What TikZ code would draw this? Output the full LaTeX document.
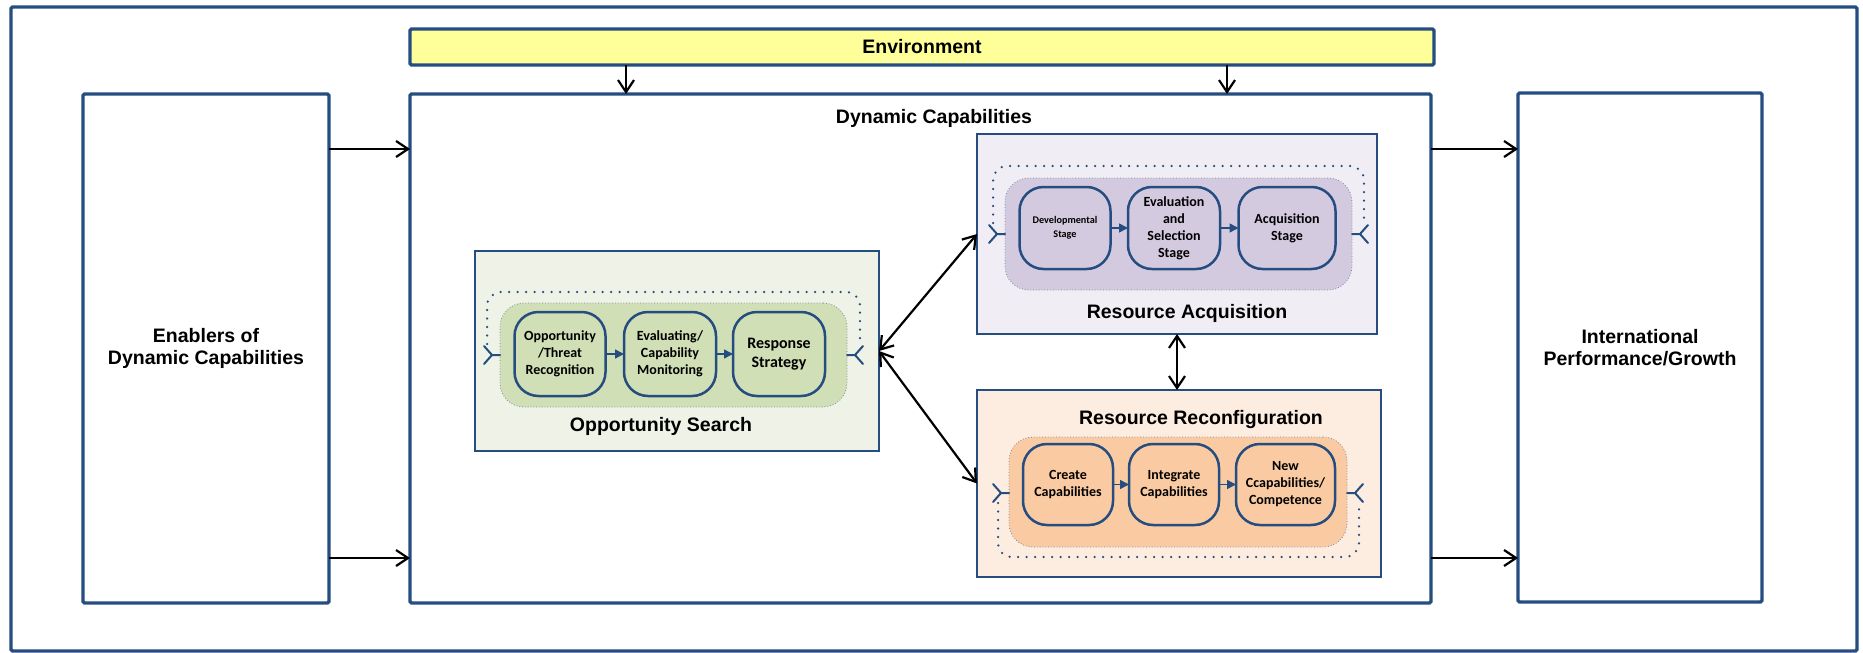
\documentclass[tikz,border=0pt]{standalone}
\usepackage{fontspec}
\setmainfont{Liberation Sans}
\newfontfamily\boxfont{Carlito}
\usetikzlibrary{arrows.meta,calc}

\definecolor{frameblue}{RGB}{37,77,128}
\definecolor{envyellow}{RGB}{255,255,153}
\definecolor{osbg}{RGB}{238,242,231}
\definecolor{osfill}{RGB}{209,223,182}
\definecolor{rabg}{RGB}{240,238,244}
\definecolor{rafill}{RGB}{212,202,223}
\definecolor{rrbg}{RGB}{253,237,224}
\definecolor{rrfill}{RGB}{250,203,162}
\definecolor{dotgray}{RGB}{120,135,160}

\tikzset{
  heavybox/.style={draw=frameblue, line width=3.3pt, rounded corners=1.5pt,
    inner sep=0pt, outer sep=0pt, anchor=north west},
  panel/.style={draw=frameblue, line width=2pt, inner sep=0pt, outer sep=0pt,
    anchor=north west},
  region/.style={draw=dotgray, line width=0.8pt, dotted, rounded corners=24pt,
    inner sep=0pt, outer sep=0pt, anchor=north west},
  stage/.style={draw=frameblue, line width=2.5pt, rounded corners=24pt,
    inner sep=0pt, outer sep=0pt, align=center,
    font=\boxfont\bfseries\fontsize{14}{17}\selectfont},
  bigtxt/.style={font=\bfseries\fontsize{19.5}{22}\selectfont, align=center},
  flow/.style={draw=black, line width=2.2pt,
    -{Straight Barb[length=12pt,width=16pt]}},
  flowboth/.style={draw=black, line width=2.2pt,
    {Straight Barb[length=12pt,width=16pt]}-{Straight Barb[length=12pt,width=16pt]}},
  stagearrow/.style={draw=frameblue, line width=1.5pt,
    -{Triangle[length=9pt,width=9pt]}},
  loopline/.style={draw=frameblue, line width=2.5pt, line cap=round,
    dash pattern=on 0pt off 8.5pt, rounded corners=14pt},
  tipL/.pic={\draw[frameblue, line width=2pt, line cap=round]
    (-16,-9) -- (-8,0) -- (-16,9) (-8,0) -- (0,0);},
  tipR/.pic={\draw[frameblue, line width=2pt, line cap=round]
    (16,-9) -- (8,0) -- (16,9) (8,0) -- (0,0);},
}

\begin{document}
\begin{tikzpicture}[x=1pt,y=-1pt]
\useasboundingbox (0,0) rectangle (1863,653);

% outer frame and the three columns
\node[heavybox, minimum width=1846pt, minimum height=644pt] (frame) at (11,7) {};
\node[heavybox, fill=envyellow, minimum width=1024pt, minimum height=36pt] (env) at (410,29)
  {\fontsize{19.5}{22}\selectfont\bfseries Environment};
\node[heavybox, minimum width=246pt, minimum height=509pt] (en) at (83,94) {};
\node[bigtxt, font=\bfseries\fontsize{19.5}{21.5}\selectfont] (entxt) at (en.center)
  {Enablers of\\Dynamic Capabilities};
\node[heavybox, minimum width=1021pt, minimum height=509pt] (dc) at (410,94) {};
\node[bigtxt] (dctitle) at (934,118) {Dynamic Capabilities};
\node[heavybox, minimum width=244pt, minimum height=509pt] (intl) at (1518,93) {};
\node[bigtxt, font=\bfseries\fontsize{19.5}{21.5}\selectfont] (intltxt) at (intl.center)
  {International\\Performance/Growth};

% three panels
\node[panel, fill=osbg, minimum width=404pt, minimum height=200pt] (os) at (475,251) {};
\node[panel, fill=rabg, minimum width=400pt, minimum height=200pt] (ra) at (977,134) {};
\node[panel, fill=rrbg, minimum width=404pt, minimum height=187pt] (rr) at (977,390) {};

% shaded regions holding the stages
\node[region, fill=osfill, minimum width=347pt, minimum height=104pt] (osr) at (500,303) {};
\node[region, fill=rafill, minimum width=347pt, minimum height=112pt] (rar) at (1005,178) {};
\node[region, fill=rrfill, minimum width=338pt, minimum height=110pt] (rrr) at (1009,437) {};

% feedback loops
\draw[loopline] ([shift={(-13,-11)}]osr.west) -- ([shift={(-13,-11)}]osr.north west)
  -- ([shift={(13,-11)}]osr.north east) -- ([shift={(13,-11)}]osr.east);
\draw[loopline] ([shift={(-12,-11)}]rar.west) -- ([shift={(-12,-12)}]rar.north west)
  -- ([shift={(12,-12)}]rar.north east) -- ([shift={(12,-11)}]rar.east);
\draw[loopline] ([shift={(-11,11)}]rrr.west) -- ([shift={(-11,10)}]rrr.south west)
  -- ([shift={(12,10)}]rrr.south east) -- ([shift={(12,11)}]rrr.east);
\pic at (osr.west) {tipL}; \pic at (osr.east) {tipR};
\pic at (rar.west) {tipL}; \pic at (rar.east) {tipR};
\pic at ([yshift=-1pt]rrr.west) {tipL}; \pic at ([yshift=-1pt]rrr.east) {tipR};

% opportunity search stages
\node[stage, fill=osfill, minimum width=91pt, minimum height=84pt] (o1) at (560,354)
  {Opportunity\\/Threat\\Recognition};
\node[stage, fill=osfill, minimum width=92pt, minimum height=84pt] (o2) at (670,354)
  {Evaluating/\\Capability\\Monitoring};
\node[stage, fill=osfill, minimum width=92pt, minimum height=84pt,
  font=\boxfont\bfseries\fontsize{16}{19.5}\selectfont] (o3) at (779,354)
  {Response\\Strategy};
\draw[stagearrow] (o1) -- (o2);
\draw[stagearrow] (o2) -- (o3);
\node[bigtxt] (oslabel) at (661,426) {Opportunity Search};

% resource acquisition stages
\node[stage, fill=rafill, minimum width=91pt, minimum height=82pt,
  font=\boxfont\bfseries\fontsize{10.2}{13.5}\selectfont] (a1) at (1065,228)
  {Developmental\\Stage};
\node[stage, fill=rafill, minimum width=92pt, minimum height=82pt] (a2) at (1174,228)
  {Evaluation\\and\\Selection\\Stage};
\node[stage, fill=rafill, minimum width=97pt, minimum height=82pt] (a3) at (1287,228)
  {Acquisition\\Stage};
\draw[stagearrow] (a1) -- (a2);
\draw[stagearrow] (a2) -- (a3);
\node[bigtxt] (ralabel) at (1187,313) {Resource Acquisition};

% resource reconfiguration stages
\node[stage, fill=rrfill, minimum width=90pt, minimum height=81pt] (r1) at (1068,484.5)
  {Create\\Capabilities};
\node[stage, fill=rrfill, minimum width=90pt, minimum height=81pt] (r2) at (1174,484.5)
  {Integrate\\Capabilities};
\node[stage, fill=rrfill, minimum width=99pt, minimum height=81pt] (r3) at (1285.5,484.5)
  {New\\Ccapabilities/\\Competence};
\draw[stagearrow] (r1) -- (r2);
\draw[stagearrow] (r2) -- (r3);
\node[bigtxt] (rrlabel) at (1201,419) {Resource Reconfiguration};

% main flows
\draw[flow] ([yshift=-55pt]en.north east) -- ([yshift=-55pt]en.north east -| dc.west);
\draw[flow] ([yshift=45pt]en.south east) -- ([yshift=45pt]en.south east -| dc.west);
\draw[flow] ([yshift=-55pt]dc.north east) -- ([yshift=-55pt]dc.north east -| intl.west);
\draw[flow] ([yshift=45pt]dc.south east) -- ([yshift=45pt]dc.south east -| intl.west);
\draw[flow] ([xshift=-296pt]env.south) -- ([xshift=-296pt]env.south |- dc.north);
\draw[flow] ([xshift=305pt]env.south) -- ([xshift=305pt]env.south |- dc.north);

% links between the panels
\draw[flowboth] (os.east) -- (ra.west);
\draw[flowboth] (os.east) -- (rr.west);
\draw[flowboth] (ra.south) -- (ra.south |- rr.north);
\end{tikzpicture}
\end{document}
